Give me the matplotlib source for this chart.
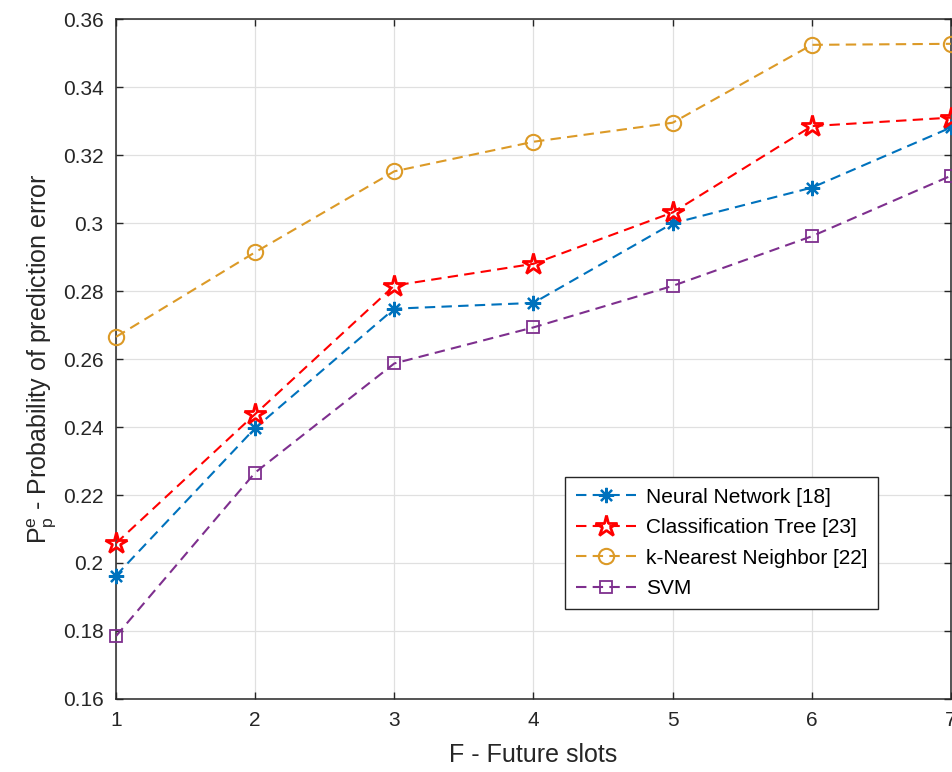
import numpy as np
import matplotlib
matplotlib.use("Agg")
import matplotlib.pyplot as plt
from matplotlib.ticker import FuncFormatter

plt.rcParams['font.family'] = ['Liberation Sans', 'DejaVu Sans']
plt.rcParams['mathtext.fontset'] = 'custom'
plt.rcParams['mathtext.rm'] = 'Liberation Sans'

# data
slots = [1, 2, 3, 4, 5, 6, 7]
neural_network = [0.1963, 0.2397, 0.2748, 0.2765, 0.2999, 0.3104, 0.3281]
classification_tree = [0.2058, 0.2438, 0.2816, 0.2880, 0.3031, 0.3285, 0.3310]
knn = [0.2665, 0.2914, 0.3152, 0.3239, 0.3295, 0.3524, 0.3527]
svm = [0.1785, 0.2266, 0.2587, 0.2693, 0.2815, 0.2961, 0.3139]
labels = ['Neural Network [18]', 'Classification Tree [23]',
          'k-Nearest Neighbor [22]', 'SVM']

fig = plt.figure(figsize=(9.53, 7.72), dpi=100)
ax = fig.add_axes([116 / 953, 73 / 772, 835 / 953, 680 / 772])

dash = (0, (5, 3))
ax.plot(slots, neural_network, color='#0072BD', linestyle=dash, lw=1.5,
        marker=(8, 2, 0), ms=11, mew=1.6, label=labels[0], clip_on=False, zorder=3)
ax.plot(slots, classification_tree, color='#FF0000', linestyle=dash, lw=1.5,
        marker='*', ms=16, mfc='none', mew=2, label=labels[1], clip_on=False, zorder=3)
ax.plot(slots, knn, color='#DC9A27', linestyle=dash, lw=1.5,
        marker='o', ms=11, mfc='none', mew=1.5, label=labels[2], clip_on=False, zorder=3)
ax.plot(slots, svm, color='#7E2F8E', linestyle=dash, lw=1.5,
        marker='s', ms=9, mfc='none', mew=1.3, label=labels[3], clip_on=False, zorder=3)

ax.set_xlim(1, 7)
ax.set_ylim(0.16, 0.36)
ax.set_xticks(slots)
ax.set_yticks(np.arange(0.16, 0.3601, 0.02))
ax.yaxis.set_major_formatter(FuncFormatter(lambda v, p: '%g' % round(v, 2)))
ax.grid(True, color='#E0E0E0', lw=0.9)
ax.set_axisbelow(True)
ax.tick_params(direction='in', top=True, right=True, length=5, width=1,
               colors='#262626', labelsize=15)
ax.tick_params(axis='y', pad=9)
ax.tick_params(axis='x', pad=9)
for s in ax.spines.values():
    s.set_color('#262626')
    s.set_linewidth(1.1)

ax.set_xlabel('F - Future slots', fontsize=18, color='#262626', labelpad=9)
ax.set_ylabel(r'$\mathrm{P}_\mathrm{p}^\mathrm{e}$ - Probability of prediction error',
              fontsize=18, color='#262626', labelpad=3)

leg = ax.legend(loc='upper left', bbox_to_anchor=(0.538, 0.326), fontsize=15,
                fancybox=False, edgecolor='#262626', framealpha=1,
                handlelength=2.9, handletextpad=0.5, borderpad=0.5,
                labelspacing=0.55, borderaxespad=0)
leg.get_frame().set_linewidth(1)

fig.savefig('out.png', dpi=100)
